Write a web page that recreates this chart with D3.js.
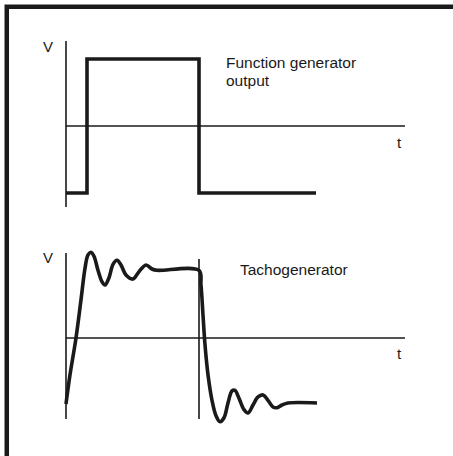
<!DOCTYPE html>
<html>
<head>
<meta charset="utf-8">
<script src="https://cdn.jsdelivr.net/npm/d3@7"></script>
<style>
html,body{margin:0;padding:0;background:#fff;}
svg{display:block;}
text{font-family:"Liberation Sans",Arial,sans-serif;fill:#1a1a1a;}
</style>
</head>
<body>
<svg id="chart" width="453" height="456"></svg>
<script>
// Function generator output (square wave): time, volts
const squareT = [0, 21, 21, 133, 133, 250];
const squareV = [-1, -1, 1, 1, -1, -1];

// Tachogenerator response: time, volts
const tachoT = [0, 4, 10, 15, 19, 22, 25, 28, 32, 36, 39, 43, 47, 51, 55, 60, 67, 73, 80, 86, 91, 133,
  135, 137, 139, 142, 146, 150, 154, 158, 162, 166, 169, 173, 178, 182, 187, 192, 197, 202, 207, 211, 216, 222, 251];
const tachoV = [-0.985, -0.55, 0, 0.57, 1.04, 1.24, 1.28, 1.22, 1.01, 0.84, 0.79, 0.90, 1.10, 1.16, 1.09, 0.94, 0.88, 0.99, 1.09, 1.03, 1.01, 1.01,
  0.79, 0.34, -0.10, -0.55, -0.93, -1.16, -1.25, -1.19, -0.97, -0.79, -0.78, -0.90, -1.07, -1.12, -1.00, -0.88, -0.85, -0.93, -1.03, -1.04, -1.0, -0.97, -0.97];

const titles = ["Function generator", "output"];
const tachoTitle = "Tachogenerator";
const axisLabels = ["V", "t"];

const svg = d3.select("#chart");

// frame
svg.append("path")
  .attr("d", "M6.75,456 L6.75,6.75 L453,6.75")
  .attr("fill", "none").attr("stroke", "#1a1a1a").attr("stroke-width", 4.5);

const x = d3.scaleLinear().domain([0, 339]).range([66, 405]);
const yTop = d3.scaleLinear().domain([-1, 1]).range([193, 59]);
const yBot = d3.scaleLinear().domain([-1, 1]).range([405, 271]);

function drawAxes(y, vLabelY, tLabelY) {
  svg.append("line")
    .attr("x1", x(0)).attr("x2", x(0))
    .attr("y1", y(1.27)).attr("y2", y(-1.21))
    .attr("stroke", "#1a1a1a").attr("stroke-width", 1.6);
  svg.append("line")
    .attr("x1", x(0)).attr("x2", x(339))
    .attr("y1", y(0)).attr("y2", y(0))
    .attr("stroke", "#1a1a1a").attr("stroke-width", 1.6);
  svg.append("text").attr("x", 43).attr("y", vLabelY)
    .attr("font-size", 15).text(axisLabels[0]);
  svg.append("text").attr("x", 397).attr("y", tLabelY)
    .attr("font-size", 15).text(axisLabels[1]);
}

drawAxes(yTop, 52, 148);
drawAxes(yBot, 263, 359);

// second vertical marker in bottom panel
svg.append("line")
  .attr("x1", x(133)).attr("x2", x(133))
  .attr("y1", yBot(1.18)).attr("y2", yBot(-1.21))
  .attr("stroke", "#1a1a1a").attr("stroke-width", 1.6);

// square wave
const sq = squareT.map((t, i) => [t, squareV[i]]);
svg.append("path")
  .attr("d", d3.line().x(d => x(d[0])).y(d => yTop(d[1]))(sq))
  .attr("fill", "none").attr("stroke", "#1a1a1a").attr("stroke-width", 3.6)
  .attr("stroke-linejoin", "miter");

// tacho curve
const tc = tachoT.map((t, i) => [t, tachoV[i]]);
svg.append("path")
  .attr("d", d3.line().x(d => x(d[0])).y(d => yBot(d[1])).curve(d3.curveCatmullRom.alpha(0.5))(tc))
  .attr("fill", "none").attr("stroke", "#1a1a1a").attr("stroke-width", 3.6)
  .attr("stroke-linejoin", "round").attr("stroke-linecap", "butt");

// titles
svg.append("text").attr("x", 226).attr("y", 68).attr("font-size", 15.5).text(titles[0]);
svg.append("text").attr("x", 226).attr("y", 86).attr("font-size", 15.5).text(titles[1]);
svg.append("text").attr("x", 240).attr("y", 275).attr("font-size", 15.5).text(tachoTitle);
</script>
</body>
</html>
